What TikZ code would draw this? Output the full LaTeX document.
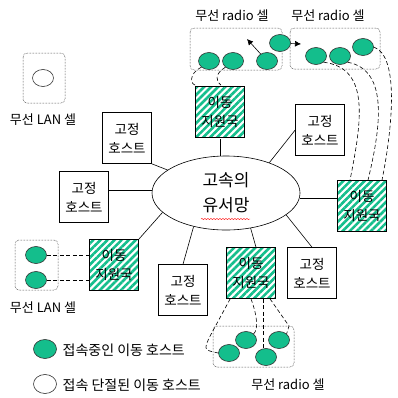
\documentclass[tikz,border=0pt]{standalone}
\usepackage{fontspec}
\setmainfont{Noto Sans CJK KR}
\usetikzlibrary{shapes.geometric,patterns.meta,arrows.meta,decorations.pathmorphing}
\definecolor{hostgreen}{RGB}{20,190,140}

\begin{document}
\begin{tikzpicture}[x=1pt,y=-1pt,line width=0.6pt,
    fixed/.style={%
      draw,
      rectangle,
      minimum width=49pt,
      minimum height=51pt,
      inner sep=0pt,
      align=center,
      font=\fontsize{13.5}{19}\selectfont,
    },
    station/.style={%
      fixed,
      pattern={Lines[angle=45,distance=5pt,line width=2.6pt]},
      pattern color=hostgreen,
    },
    mobile/.style={%
      draw=black!80,
      ellipse,
      fill=hostgreen,
      minimum width=21pt,
      minimum height=17pt,
      inner sep=0pt,
    },
    offhost/.style={mobile,fill=white},
    cell/.style={draw,densely dotted,line width=0.5pt,rounded corners=4pt},
    radio/.style={dash pattern=on 4pt off 2.5pt},
    celltext/.style={font=\fontsize{13}{15}\selectfont},
    keytext/.style={font=\fontsize{14}{16}\selectfont,anchor=west},
  ]
    \useasboundingbox (0,0) rectangle (398,397);

    % wired network
    \node [draw,ellipse,minimum width=148pt,minimum height=74pt,align=center,
      font=\fontsize{17}{25}\selectfont] (net) at (226,193) {고속의\\유서망};
    \draw [red,line width=0.4pt,decorate,
      decoration={snake,amplitude=0.6pt,segment length=3pt}] (201,219) -- (250,219);

    % fixed hosts
    \node [fixed] (fixA) at (127,138) {고정\\호스트};
    \node [fixed] (fixB) at (84,197) {고정\\호스트};
    \node [fixed] (fixC) at (320,130) {고정\\호스트};
    \node [fixed] (fixD) at (183,290) {고정\\호스트};
    \node [fixed] (fixE) at (312,273) {고정\\호스트};

    % mobile support stations
    \node [station] (stA) at (220,112) {이동\\지원국};
    \node [station] (stB) at (362,206) {이동\\지원국};
    \node [station] (stC) at (114,265) {이동\\지원국};
    \node [station] (stD) at (251,273) {이동\\지원국};

    \draw (fixA.south east) -- (net);
    \draw ([yshift=7pt]fixB.east) -- ([yshift=3pt]net.west);
    \draw (fixC.west) -- (net.35);
    \draw (fixD.north) -- (net.-134);
    \draw (fixE.north) -- (net.-20);
    \draw (stA.south) -- (stA.south |- net.north);
    \draw ([yshift=8pt]stB.west) -- ([yshift=8pt]stB.west -| net.east);
    \draw (stC.north east) -- (net.-163);
    \draw ([xshift=5pt]stD.north) -- (net.-55);

    % wireless LAN cell, top left
    \draw [cell] (23,53) rectangle (65,103);
    \node [offhost] (lanA) at (43,78) {};
    \node [celltext] (lanAtext) at (43,120) {무선 LAN 셀};

    % wireless LAN cell, left
    \draw [cell] (15,240) rectangle (58,290);
    \node [mobile] (lanB) at (36,255) {};
    \node [mobile] (lanC) at (36,280) {};
    \node [celltext] (lanBtext) at (43,308) {무선 LAN 셀};
    \draw [radio] (lanB) -- (lanB -| stC.west);
    \draw [radio] (lanC) -- (lanC -| stC.west);

    % radio cells, top
    \draw [cell] (190,28) rectangle (282,70);
    \draw [cell] (290,28) rectangle (380,69);
    \node [celltext] (radAtext) at (232,16) {무선 radio 셀};
    \node [celltext] (radBtext) at (328,16) {무선 radio 셀};
    \node [mobile] (mA) at (209,61) {};
    \node [mobile] (mB) at (233,61) {};
    \node [mobile] (mC) at (267,61) {};
    \node [mobile] (mD) at (280,43) {};
    \node [mobile] (mE) at (316,56) {};
    \node [mobile] (mF) at (340,56) {};
    \node [mobile] (mG) at (363,47) {};
    \coordinate (dirA) at (247,39);
    \coordinate (dirB) at (301,44);
    \draw [-{Latex[length=6pt,width=6pt]}] (mC) -- (dirA);
    \draw [-{Latex[length=6pt,width=6pt]}] (mD) -- (dirB);

    \draw [radio] (mA.south west) .. controls (188,74) and (190,86) .. ([xshift=3pt]stA.north west);
    \draw [radio] (mB.south west) .. controls (214,74) and (216,82) .. ([xshift=1pt]stA.north);
    \draw [radio] (mE.south east) .. controls (370,68) and (362,120) .. ([xshift=-12pt]stB.north);
    \draw [radio] (mF.south east) .. controls (390,70) and (380,130) .. ([xshift=6pt]stB.north);
    \draw [radio] (mG.east) .. controls (400,56) and (392,130) .. ([xshift=20pt]stB.north);

    % radio cell, bottom
    \draw [cell] (213,326) rectangle (294,367);
    \node [celltext] (radCtext) at (288,385) {무선 radio 셀};
    \node [mobile] (bA) at (229,353) {};
    \node [mobile] (bB) at (246,340) {};
    \node [mobile] (bC) at (266,357) {};
    \node [mobile] (bD) at (279,340) {};
    \draw [radio] ([xshift=4pt]stD.south west) -- (209,338) .. controls (204,350) .. (bA.west);
    \draw [radio] (stD.south) .. controls (258,318) and (258,330) .. (bB.north east);
    \draw [radio] ([xshift=12pt]stD.south) -- ([xshift=-3pt]bC.north);
    \draw [radio] ([xshift=19pt]stD.south) -- (289,326) -- (bD.north east);

    % legend
    \node [mobile,minimum width=23pt,minimum height=19pt] (keyOn) at (45,349) {};
    \node [keytext] (keyOntext) at (59,350) {접속중인 이동 호스트};
    \node [offhost,minimum width=23pt,minimum height=19pt] (keyOff) at (45,384) {};
    \node [keytext] (keyOfftext) at (59,385) {접속 단절된 이동 호스트};
\end{tikzpicture}
\end{document}
